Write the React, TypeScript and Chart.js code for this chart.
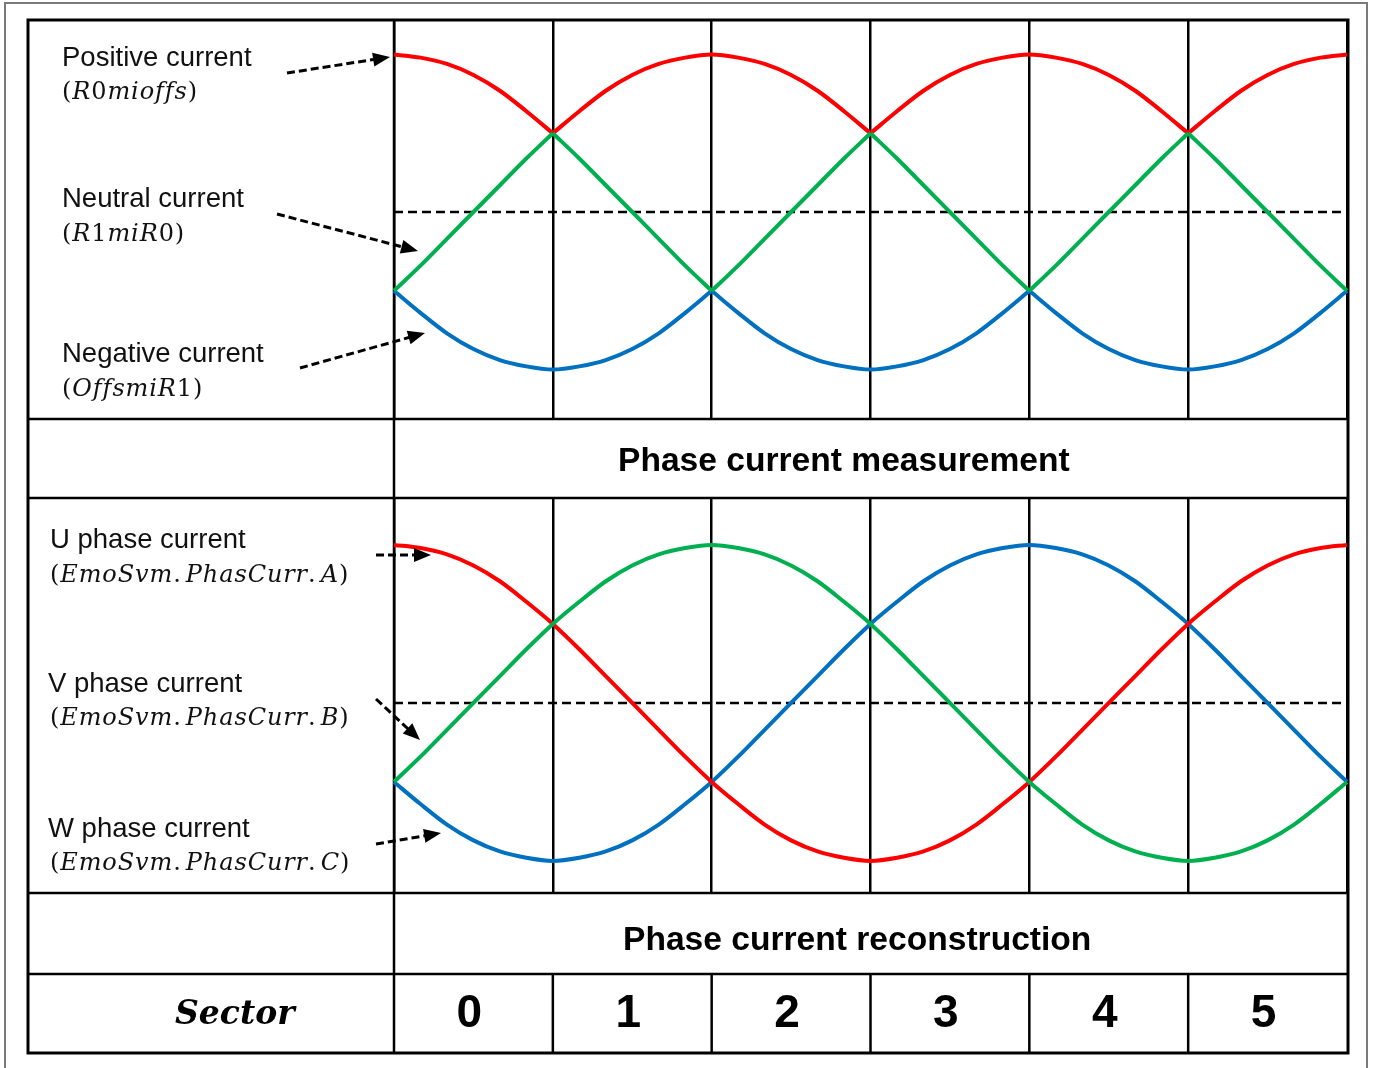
import React, { useEffect, useRef } from 'react';
import { Chart, registerables } from 'chart.js';

Chart.register(...registerables);

// Electrical angle (degrees) at which each sample is taken, one sector = 60°
const ANGLE_DEG = [
  0, 10, 20, 30, 40, 50, 60, 70, 80, 90, 100, 110, 120, 130, 140, 150, 160, 170, 180,
  190, 200, 210, 220, 230, 240, 250, 260, 270, 280, 290, 300, 310, 320, 330, 340, 350, 360,
];

// Phase current measurement (normalised)
const POSITIVE_CURRENT = [
  1.0, 0.98, 0.94, 0.87, 0.77, 0.64, 0.5, 0.64, 0.77, 0.87, 0.94, 0.98, 1.0, 0.98, 0.94, 0.87, 0.77, 0.64, 0.5,
  0.64, 0.77, 0.87, 0.94, 0.98, 1.0, 0.98, 0.94, 0.87, 0.77, 0.64, 0.5, 0.64, 0.77, 0.87, 0.94, 0.98, 1.0,
];
const NEUTRAL_CURRENT = [
  -0.5, -0.34, -0.17, 0.0, 0.17, 0.34, 0.5, 0.34, 0.17, 0.0, -0.17, -0.34, -0.5, -0.34, -0.17, 0.0, 0.17, 0.34, 0.5,
  0.34, 0.17, 0.0, -0.17, -0.34, -0.5, -0.34, -0.17, 0.0, 0.17, 0.34, 0.5, 0.34, 0.17, 0.0, -0.17, -0.34, -0.5,
];
const NEGATIVE_CURRENT = [
  -0.5, -0.64, -0.77, -0.87, -0.94, -0.98, -1.0, -0.98, -0.94, -0.87, -0.77, -0.64, -0.5, -0.64, -0.77, -0.87, -0.94, -0.98, -1.0,
  -0.98, -0.94, -0.87, -0.77, -0.64, -0.5, -0.64, -0.77, -0.87, -0.94, -0.98, -1.0, -0.98, -0.94, -0.87, -0.77, -0.64, -0.5,
];

// Angles where the measured curves switch phase (sharp corners)
const POSITIVE_CORNERS = [60, 180, 300];
const NEUTRAL_CORNERS = [60, 120, 180, 240, 300];
const NEGATIVE_CORNERS = [120, 240];

// Phase current reconstruction (normalised)
const U_PHASE = [
  1.0, 0.98, 0.94, 0.87, 0.77, 0.64, 0.5, 0.34, 0.17, 0.0, -0.17, -0.34, -0.5, -0.64, -0.77, -0.87, -0.94, -0.98, -1.0,
  -0.98, -0.94, -0.87, -0.77, -0.64, -0.5, -0.34, -0.17, 0.0, 0.17, 0.34, 0.5, 0.64, 0.77, 0.87, 0.94, 0.98, 1.0,
];
const V_PHASE = [
  -0.5, -0.34, -0.17, 0.0, 0.17, 0.34, 0.5, 0.64, 0.77, 0.87, 0.94, 0.98, 1.0, 0.98, 0.94, 0.87, 0.77, 0.64, 0.5,
  0.34, 0.17, 0.0, -0.17, -0.34, -0.5, -0.64, -0.77, -0.87, -0.94, -0.98, -1.0, -0.98, -0.94, -0.87, -0.77, -0.64, -0.5,
];
const W_PHASE = [
  -0.5, -0.64, -0.77, -0.87, -0.94, -0.98, -1.0, -0.98, -0.94, -0.87, -0.77, -0.64, -0.5, -0.34, -0.17, 0.0, 0.17, 0.34, 0.5,
  0.64, 0.77, 0.87, 0.94, 0.98, 1.0, 0.98, 0.94, 0.87, 0.77, 0.64, 0.5, 0.34, 0.17, 0.0, -0.17, -0.34, -0.5,
];

const SECTOR_LABELS = ['0', '1', '2', '3', '4', '5'];
const SECTOR_STEP_DEG = 60;

const RED = '#ff0000';
const GREEN = '#00b050';
const BLUE = '#0070c0';

const SANS = "'Liberation Sans', Arial, sans-serif";
const SERIF = "'DejaVu Serif', serif";

// Table geometry
const TABLE_LEFT = 28;
const TABLE_RIGHT = 1348;
const TABLE_TOP = 20;
const TABLE_BOTTOM = 1053;
const LABEL_COL = 394;
const PLOT_LEFT = 394;
const PLOT_RIGHT = 1347;
const ROW_LINES = [419, 498, 893, 974];
const TOP_PLOT = { top: 20, bottom: 419, yMin: -1.314, yMax: 1.219 };
const BOTTOM_PLOT = { top: 498, bottom: 893, yMin: -1.203, yMax: 1.297 };
const PAD = 10;

type Series = { label: string; values: number[]; color: string; corners?: number[] };

// Split a series into smooth pieces at its corner angles; each piece keeps the shared end sample
function pieces(values: number[], corners: number[] = []) {
  const out: { x: number; y: number }[][] = [];
  let cur: { x: number; y: number }[] = [];
  ANGLE_DEG.forEach((a, i) => {
    cur.push({ x: a, y: values[i] });
    if (corners.includes(a)) {
      out.push(cur);
      cur = [{ x: a, y: values[i] }];
    }
  });
  if (cur.length > 1) out.push(cur);
  return out;
}

function PhasePlot({ series, plot }: { series: Series[]; plot: typeof TOP_PLOT }) {
  const ref = useRef<HTMLCanvasElement | null>(null);
  useEffect(() => {
    if (!ref.current) return;
    const curveSets = series.flatMap((s) =>
      pieces(s.values, s.corners).map((data) => ({
        label: s.label,
        data,
        borderColor: s.color,
        borderWidth: 4,
        pointRadius: 0,
        cubicInterpolationMode: 'monotone' as const,
        clip: false as any,
      })),
    );
    const chart = new Chart(ref.current, {
      type: 'line',
      data: {
        datasets: [
          ...curveSets,
          {
            label: 'zero',
            data: [
              { x: ANGLE_DEG[0], y: 0 },
              { x: ANGLE_DEG[ANGLE_DEG.length - 1], y: 0 },
            ],
            borderColor: '#000',
            borderWidth: 2.5,
            borderDash: [9, 5],
            pointRadius: 0,
            clip: false as any,
          },
        ],
      },
      options: {
        animation: false,
        responsive: false,
        devicePixelRatio: 1,
        events: [],
        layout: { padding: PAD },
        plugins: { legend: { display: false }, tooltip: { enabled: false } },
        scales: {
          x: {
            type: 'linear',
            min: ANGLE_DEG[0],
            max: ANGLE_DEG[ANGLE_DEG.length - 1],
            ticks: { display: false, stepSize: SECTOR_STEP_DEG },
            grid: { color: '#000', lineWidth: 2.5, drawTicks: false },
            border: { display: false },
          },
          y: { display: false, min: plot.yMin, max: plot.yMax },
        },
      },
    });
    return () => chart.destroy();
  }, []);
  const width = PLOT_RIGHT - PLOT_LEFT + 2 * PAD;
  const height = plot.bottom - plot.top + 2 * PAD;
  return (
    <canvas
      ref={ref}
      width={width}
      height={height}
      style={{ position: 'absolute', left: PLOT_LEFT - PAD, top: plot.top - PAD, width, height }}
    />
  );
}

function MathText({ x, y, text }: { x: number; y: number; text: string }) {
  const parts = text.split(/([0-9().])/).filter(Boolean);
  return (
    <text x={x} y={y} fontFamily={SERIF} fontSize={24} letterSpacing={0.9} fill="#111">
      {parts.map((p, i) => (
        <tspan
          key={i}
          fontStyle={/^[0-9().]$/.test(p) ? 'normal' : 'italic'}
          letterSpacing={p === '.' ? 5 : undefined}
        >
          {p}
        </tspan>
      ))}
    </text>
  );
}

function Arrow({ x1, y1, x2, y2 }: { x1: number; y1: number; x2: number; y2: number }) {
  const dx = x2 - x1;
  const dy = y2 - y1;
  const len = Math.hypot(dx, dy);
  const ux = dx / len;
  const uy = dy / len;
  const head = 17;
  const half = 7;
  const bx = x2 - ux * head;
  const by = y2 - uy * head;
  const pts = `${x2},${y2} ${bx - uy * half},${by + ux * half} ${bx + uy * half},${by - ux * half}`;
  return (
    <g>
      <line x1={x1} y1={y1} x2={bx + ux * 2} y2={by + uy * 2} stroke="#000" strokeWidth={3} strokeDasharray="8 4" />
      <polygon points={pts} fill="#000" />
    </g>
  );
}

const LABEL_SIZE = 27.5;

export default function App() {
  const sectorWidth = (PLOT_RIGHT - PLOT_LEFT) / SECTOR_LABELS.length;
  const sectorEdges = SECTOR_LABELS.slice(1).map((_, i) => PLOT_LEFT + (i + 1) * sectorWidth);

  return (
    <div
      style={{
        position: 'absolute',
        left: 0,
        top: 0,
        width: 1373,
        height: 1068,
        overflow: 'hidden',
        background: '#fff',
      }}
    >
      {/* table grid */}
      <svg width={1373} height={1068} style={{ position: 'absolute', left: 0, top: 0 }}>
        <path d="M5,1075 L5,3 L1367,3 L1367,1075" fill="none" stroke="#7a7a7a" strokeWidth={2} />
        <rect
          x={TABLE_LEFT}
          y={TABLE_TOP}
          width={TABLE_RIGHT - TABLE_LEFT}
          height={TABLE_BOTTOM - TABLE_TOP}
          fill="none"
          stroke="#000"
          strokeWidth={3}
        />
        {ROW_LINES.map((y) => (
          <line key={y} x1={TABLE_LEFT} y1={y} x2={TABLE_RIGHT} y2={y} stroke="#000" strokeWidth={2.5} />
        ))}
        <line x1={LABEL_COL} y1={TABLE_TOP} x2={LABEL_COL} y2={TABLE_BOTTOM} stroke="#000" strokeWidth={2.5} />
        {sectorEdges.map((x) => (
          <line key={x} x1={x} y1={ROW_LINES[3]} x2={x} y2={TABLE_BOTTOM} stroke="#000" strokeWidth={2.5} />
        ))}
      </svg>

      <PhasePlot
        plot={TOP_PLOT}
        series={[
          { label: 'Neutral current', values: NEUTRAL_CURRENT, color: GREEN, corners: NEUTRAL_CORNERS },
          { label: 'Negative current', values: NEGATIVE_CURRENT, color: BLUE, corners: NEGATIVE_CORNERS },
          { label: 'Positive current', values: POSITIVE_CURRENT, color: RED, corners: POSITIVE_CORNERS },
        ]}
      />
      <PhasePlot
        plot={BOTTOM_PLOT}
        series={[
          { label: 'V phase current', values: V_PHASE, color: GREEN },
          { label: 'U phase current', values: U_PHASE, color: RED },
          { label: 'W phase current', values: W_PHASE, color: BLUE },
        ]}
      />

      {/* labels and arrows */}
      <svg width={1373} height={1068} style={{ position: 'absolute', left: 0, top: 0, pointerEvents: 'none' }}>
        <g fontFamily={SANS} fontSize={LABEL_SIZE} fill="#111">
          <text x={62} y={66}>Positive current</text>
          <text x={62} y={207}>Neutral current</text>
          <text x={62} y={362}>Negative current</text>
          <text x={50} y={548}>U phase current</text>
          <text x={48} y={692}>V phase current</text>
          <text x={48} y={837}>W phase current</text>
        </g>
        <MathText x={62} y={99} text="(R0mioffs)" />
        <MathText x={62} y={241} text="(R1miR0)" />
        <MathText x={62} y={396} text="(OffsmiR1)" />
        <MathText x={50} y={582} text="(EmoSvm.PhasCurr.A)" />
        <MathText x={50} y={725} text="(EmoSvm.PhasCurr.B)" />
        <MathText x={50} y={870} text="(EmoSvm.PhasCurr.C)" />

        <Arrow x1={287} y1={73} x2={390} y2={57} />
        <Arrow x1={277} y1={214} x2={418} y2={251} />
        <Arrow x1={300} y1={368} x2={425} y2={333} />
        <Arrow x1={376} y1={555} x2={431} y2={555} />
        <Arrow x1={376} y1={699} x2={420} y2={740} />
        <Arrow x1={376} y1={844} x2={441} y2={833} />

        <g fontFamily={SANS} fontWeight="bold" fontSize={33.6} fill="#000">
          <text x={618} y={471}>Phase current measurement</text>
          <text x={623} y={950}>Phase current reconstruction</text>
        </g>

        <text x={175} y={1024} fontFamily={SERIF} fontWeight="bold" fontStyle="italic" fontSize={33} fill="#000">
          Sector
        </text>
        <g fontFamily={SANS} fontWeight="bold" fontSize={46} fill="#000" textAnchor="middle">
          {SECTOR_LABELS.map((s, i) => (
            <text key={s} x={PLOT_LEFT + (i + 0.5) * sectorWidth - 4} y={1027}>
              {s}
            </text>
          ))}
        </g>
      </svg>
    </div>
  );
}
